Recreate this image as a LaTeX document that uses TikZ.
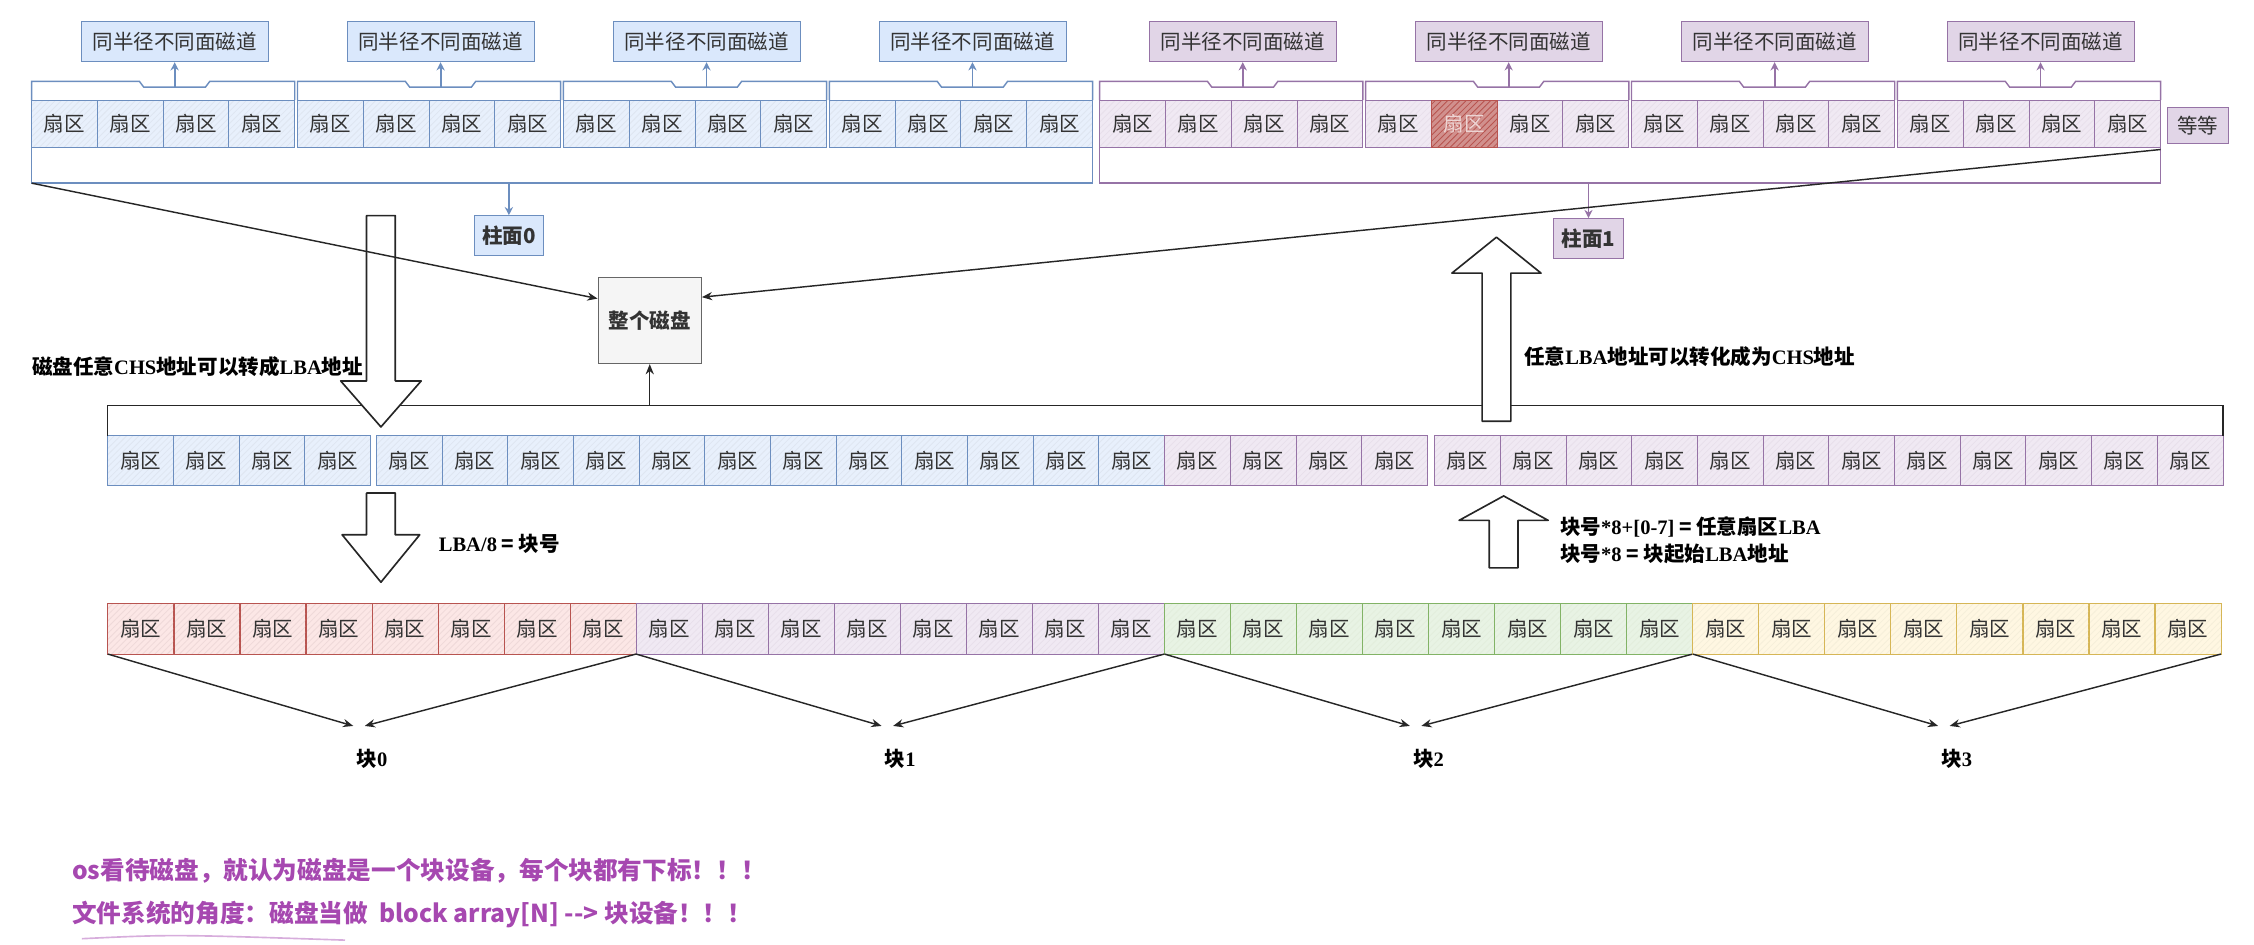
\documentclass[tikz,border=0pt]{standalone}
\usepackage{fontspec}
\setmainfont{Noto Sans CJK SC}
\newfontfamily\enfont{Liberation Serif}
\usetikzlibrary{arrows.meta,calc,patterns}
\definecolor{blL}{RGB}{108,142,191}
\definecolor{blF}{RGB}{232,240,252}
\definecolor{blB}{RGB}{218,232,252}
\definecolor{puL}{RGB}{150,115,166}
\definecolor{puF}{RGB}{240,233,243}
\definecolor{puB}{RGB}{225,213,231}
\definecolor{rdL}{RGB}{184,84,80}
\definecolor{rdF}{RGB}{252,231,230}
\definecolor{grL}{RGB}{130,179,102}
\definecolor{grF}{RGB}{232,243,228}
\definecolor{ylL}{RGB}{214,182,86}
\definecolor{ylF}{RGB}{255,247,226}
\definecolor{gyL}{RGB}{102,102,102}
\definecolor{gyF}{RGB}{245,245,245}
\definecolor{ink}{RGB}{51,51,51}
\definecolor{memoc}{RGB}{166,72,176}
\newcommand\en[1]{{\enfont #1}}
\tikzset{sec/.style={draw=#1L,preaction={fill=#1F},pattern=north east lines,pattern color=#1L!22,minimum width=32.1pt,minimum height=23pt,inner sep=0pt,outer sep=0pt,text=ink},
 lbl/.style={draw=#1L,fill=#1B,minimum width=91pt,minimum height=19.6pt,inner sep=0pt,text=ink},
 cyl/.style={lbl=#1,minimum width=34pt,font=\bfseries},
 ln/.style={line width=.7pt,draw=#1L},
 tab/.style={-{Stealth[length=4pt,width=4pt]},line width=.9pt,draw=#1L},
 arr/.style={-{Stealth[length=5pt,width=4pt]},line width=.7pt,draw=black!85},
 wire/.style={line width=.7pt,draw=black!85},
 hollow/.style={draw=black!85,fill=white,line width=.8pt,line join=round},
 note/.style={font=\bfseries\fontsize{10}{13.3}\selectfont,text=black,inner sep=0pt},
 memo/.style={font=\bfseries\fontsize{12}{15}\selectfont,text=memoc,inner sep=0pt}}
\begin{document}
\begin{tikzpicture}[x=0.7pt,y=-0.7pt,every node/.style={font=\fontsize{10}{12}\selectfont}]
\useasboundingbox (0,0) rectangle (1568,657);
% tracks of the two cylinders
\foreach \k/\gx/\col in {0/22/bl,1/207/bl,2/392/bl,3/577/bl,4/765/pu,5/950/pu,6/1135/pu,7/1320/pu}{
  \foreach \j in {0,...,3}
    \node[sec=\col] (t\k-\j) at (\gx+22.875+45.75*\j,86) {扇区};
  \draw[ln=\col] (t\k-0.north west) -- ++(0,-13) -- ++(75,0) -- ++(3,4) -- ++(43,0) -- ++(3,-4) -| (t\k-3.north east);
  \node[lbl=\col] (trk\k) at (\gx+99.5,29) {同半径不同面磁道};
  \coordinate (tb\k) at (\gx+99.5,61);
  \draw[tab=\col] (tb\k) -- (trk\k);
}
\node[sec=rd,preaction={fill=rdL!65},pattern color=rdL,text=white!75!rdL] (hot) at (t5-1) {扇区};
\node[lbl=pu,minimum width=29.4pt,minimum height=17.5pt] (etc) at (1529,87.5) {等等};
% cylinders
\draw[ln=bl] (t0-0.south west) -- ++(0,25) -| (t3-3.south east);
\draw[ln=pu] (t4-0.south west) -- ++(0,25) -| (t7-3.south east);
\coordinate (c0) at (354,127.4);\coordinate (c1) at (1105,127.4);
\node[cyl=bl] (cyl0) at (354,164) {柱面0};
\node[cyl=pu] (cyl1) at (1105,166) {柱面1};
\draw[tab=bl] (c0) -- (cyl0);\draw[tab=pu] (c1) -- (cyl1);
\node[draw=gyL,fill=gyF,minimum width=50.4pt,minimum height=42pt,font=\bfseries,text=ink] (disk) at (452,223) {整个磁盘};
% LBA row
\foreach \i in {0,...,31}{
  \pgfmathsetmacro\mx{97.85+45.7*\i+4*(\i>3)+5*(\i>19)}
  \ifnum\i<16 \def\col{bl}\else\def\col{pu}\fi
  \node[sec=\col,minimum height=24.5pt] (m\i) at (\mx,320.5) {扇区};
}
\draw[wire] (m0.north west) -- ++(0,-21) -| (m31.north east);
\coordinate (mb) at (452,282.3);
\draw[arr] (mb) -- (disk);
% blocks
\foreach \k/\col in {0/rd,1/pu,2/gr,3/yl}{
  \foreach \j in {0,...,7}
    \node[sec=\col,minimum height=24.5pt] (b\k-\j) at (97.97+367.5*\k+45.94*\j,437.5) {扇区};
  \node[note] (blk\k) at (258.75+367.5*\k,528) {块\en{\k}};
  \draw[arr] (b\k-0.south west) -- ($(blk\k)+(-13,-23)$);
  \draw[arr] (b\k-7.south east) -- ($(blk\k)+(-5,-23)$);
}
% hollow arrows
\draw[hollow] (255,150) -- (275,150) -- (275,265) -- (293,265) -- (265,297) -- (237,265) -- (255,265) -- cycle;
\draw[hollow] (1031,293) -- (1051,293) -- (1051,190) -- (1072,190) -- (1041,165) -- (1010,190) -- (1031,190) -- cycle;
\draw[hollow] (255,343) -- (275,343) -- (275,372) -- (292,372) -- (265,405) -- (238,372) -- (255,372) -- cycle;
\draw[hollow] (1036,395) -- (1056,395) -- (1056,362) -- (1077,362) -- (1046,345) -- (1015,362) -- (1036,362) -- cycle;
\coordinate (cl) at (22,127.4);\coordinate (cr) at (1503,104);
\draw[arr] (cl) -- ($(disk.north west)+(0,15)$);
\draw[arr] (cr) -- ($(disk.north east)+(0,14)$);
\node[note,anchor=west] (chs) at (22,255) {磁盘任意\en{CHS}地址可以转成\en{LBA}地址};
\node[note,anchor=west] (lba) at (1060,248) {任意\en{LBA}地址可以转化成为\en{CHS}地址};
\node[note,anchor=west] (div) at (305,378) {\en{LBA/8} = 块号};
\node[note,anchor=west,align=left] (mul) at (1085,376) {块号\en{*8+[0-7]} = 任意扇区\en{LBA}\\块号\en{*8} = 块起始\en{LBA}地址};
\node[memo,anchor=west] (os) at (50,606) {os看待磁盘，就认为磁盘是一个块设备，每个块都有下标！！！};
\node[memo,anchor=west] (fs) at (50,636) {文件系统的角度：磁盘当做\ \ block array[N] {-}{-}> 块设备！！！};
\draw[memoc!45,line width=.8pt] (57,653) .. controls (120,650) .. (240,654);
\end{tikzpicture}
\end{document}
